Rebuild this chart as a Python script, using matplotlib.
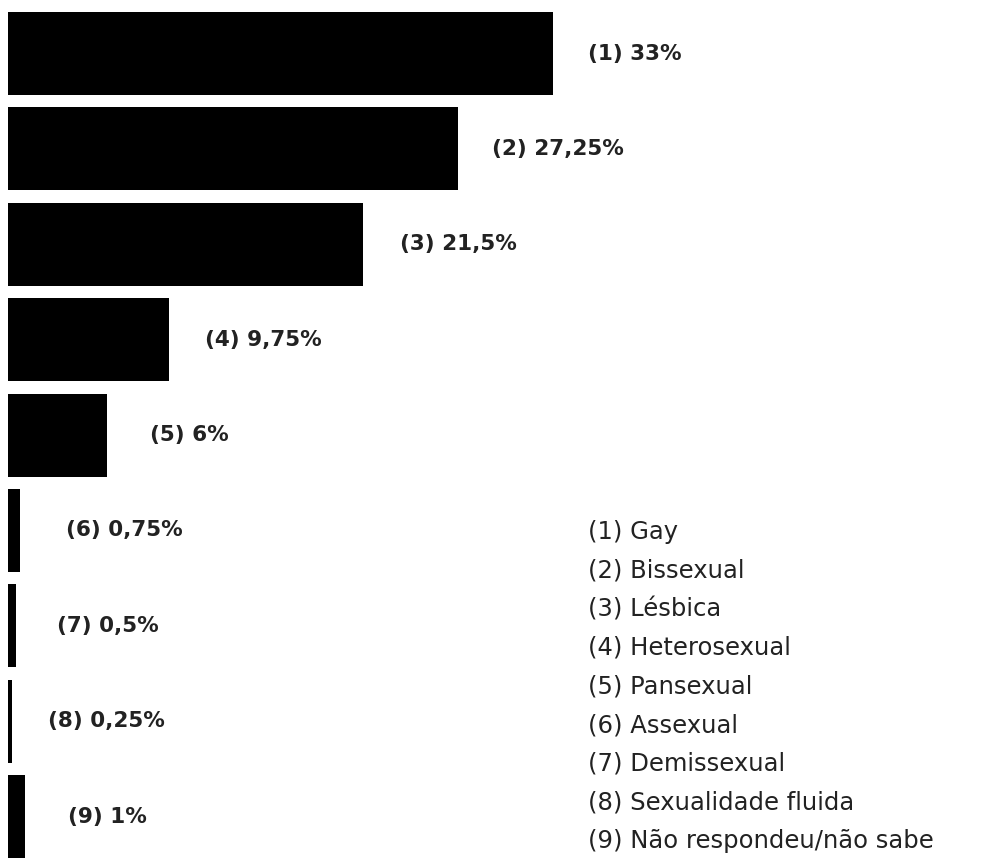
import matplotlib.pyplot as plt

# Datos
categorias = ['Gay', 'Bissexual', 'Lésbica', 'Heterosexual', 'Pansexual',
              'Assexual', 'Demissexual', 'Sexualidade fluida', 'Não respondeu/não sabe']
valores = [33, 27.25, 21.5, 9.75, 6, 0.75, 0.5, 0.25, 1]
etiquetas = ['33%', '27,25%', '21,5%', '9,75%', '6%', '0,75%', '0,5%', '0,25%', '1%']

# desplazamiento (px) de cada etiqueta respecto al final de la barra
offsets_px = [36, 34, 37, 36, 43, 46, 41, 36, 44]

W, H = 983, 863
fig = plt.figure(figsize=(W / 100, H / 100), dpi=100)
ax = fig.add_axes([8 / W, 0, (W - 8) / W, 1])

px_per_pct = 16.5
ax.set_xlim(0, (W - 8) / px_per_pct)
ax.set_ylim(8.487, -0.561)
ax.axis('off')

y = list(range(len(valores)))
ax.barh(y, valores, height=0.87, color='black')

for i, (v, et) in enumerate(zip(valores, etiquetas)):
    ax.annotate(f'({i + 1}) {et}', xy=(v, i), xytext=(offsets_px[i] * 0.72, 0),
                textcoords='offset points', ha='left', va='center',
                fontsize=15.5, fontweight='bold', family='DejaVu Sans', color='#222222')

# Leyenda de texto (alineada por la línea base)
for i, cat in enumerate(categorias):
    fig.text(588 / W, 1 - (539 + 38.6 * i) / H, f'({i + 1}) {cat}',
             ha='left', va='baseline', fontsize=17.5, family='DejaVu Sans', color='#222222')

fig.savefig('out.png', dpi=100)
